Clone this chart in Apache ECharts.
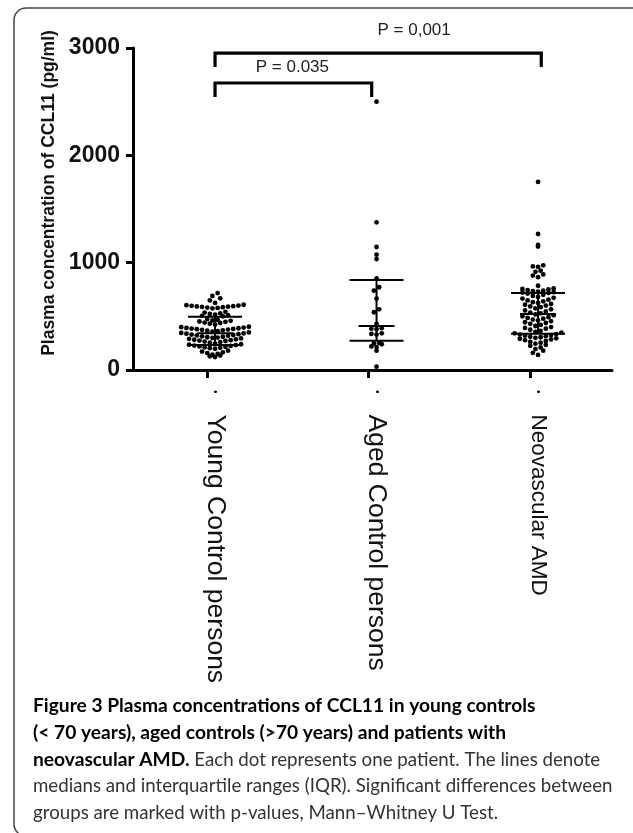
<!DOCTYPE html>
<html><head><meta charset="utf-8">
<script src="https://cdn.jsdelivr.net/npm/echarts@6/dist/echarts.min.js"></script>
<style>html,body{margin:0;padding:0;background:#fff}#c{width:633px;height:833px}</style>
</head><body><div id="c"></div>
<script>
// ---------- data ----------
const categories = ['Young Control persons', 'Aged Control persons', 'Neovascular AMD'];
const youngValues = [717, 690, 668, 648, 625,
  575, 578, 582, 585, 588, 590, 592, 595, 598, 600, 604, 608,
  500, 505, 510, 515, 522, 528, 535, 542,
  425, 432, 438, 442, 448, 452, 458, 462, 468, 475,
  358, 362, 366, 370, 374, 377, 380, 383, 386, 389, 392, 395, 399, 403,
  305, 310, 314, 318, 322, 326, 330, 334, 338, 341, 345, 350,
  255, 260, 265, 270, 274, 278, 282, 286, 290, 294, 298, 302,
  198, 203, 208, 212, 216, 220, 224, 228, 232, 236, 240, 245,
  120, 128, 135, 142, 150, 158, 165, 172, 180];
const agedValues = [31, 180, 214, 220, 240, 248, 252, 330, 336, 342, 380, 385, 390, 429,
  538, 565, 665, 739, 771, 854, 1034, 1075, 1146, 1376, 2500];
const amdValues = [1752, 1267, 1165, 1150, 975, 965, 960, 925, 915, 890, 880, 865, 785,
  760, 755, 750, 745, 740, 735, 730, 725, 722, 718, 712,
  700, 690, 680, 672, 665, 655, 648, 640, 632, 625, 615, 608, 600, 592, 585, 575, 565, 555, 545, 535, 528,
  518, 510, 500, 492, 485, 478, 470, 462, 455, 445, 438, 430, 420, 410, 400, 392, 385, 375, 365, 355, 348, 342,
  335, 330, 325, 320, 315, 310, 305, 300, 295, 290, 285, 278, 270, 262, 255, 245, 235, 225, 210, 195, 180, 160, 140];
const medians = [342, 410, 522];
const lowerQuartiles = [233, 273, 338];
const upperQuartiles = [497, 839, 717];
const yTicks = [0, 1000, 2000, 3000];
const comparisonFrom = [0, 0];
const comparisonTo = [1, 2];
const comparisonLevels = [2674, 2953];
const pValues = ['P = 0.035', 'P = 0,001'];
const captionBold = ['Figure 3 Plasma concentrations of CCL11 in young controls',
  '(< 70 years), aged controls (>70 years) and patients with',
  'neovascular AMD.'];
const captionRegular = [' Each dot represents one patient. The lines denote',
  'medians and interquartile ranges (IQR). Significant differences between',
  'groups are marked with p-values, Mann\u2013Whitney U Test.'];

// ---------- layout ----------
const GRID = {left: 133, right: 21, top: 48, bottom: 463};
const X_MIN = 0.492, X_MAX = 3.458;
const W = 633, H = 833;
const xPx = (W - GRID.left - GRID.right) / (X_MAX - X_MIN);
const yPx = (H - GRID.top - GRID.bottom) / (yTicks[yTicks.length - 1] - yTicks[0]);

function swarm(values, center) {
  const binH = 5.8, spacing = 5.2;
  const bins = {};
  values.forEach(v => { const b = Math.round(v * yPx / binH); (bins[b] = bins[b] || []).push(v); });
  const pts = [];
  Object.keys(bins).forEach(key => {
    const arr = bins[key].slice().sort((a, b) => a - b);
    const k = arr.length;
    const slots = [];
    for (let i = 0; i < k; i++) slots.push(i - (k - 1) / 2);
    slots.sort((a, b) => Math.abs(a) - Math.abs(b) || a - b);
    arr.forEach((v, i) => pts.push([center + slots[i] * spacing / xPx, v]));
  });
  return pts;
}

const groups = [youngValues, agedValues, amdValues];
let dots = [];
groups.forEach((vals, gi) => { dots = dots.concat(swarm(vals, gi + 1)); });

const statData = categories.map((c, i) => [i + 1, lowerQuartiles[i], medians[i], upperQuartiles[i]]);
const bracketData = comparisonFrom.map((a, i) => [a + 1, comparisonTo[i] + 1, comparisonLevels[i], i]);

const FONT = '"Liberation Sans", Arial, sans-serif';
const chart = echarts.init(document.getElementById('c'), null, {renderer: 'canvas'});

const captionText = [
  '{b|' + captionBold[0] + '}',
  '{b|' + captionBold[1] + '}',
  '{b|' + captionBold[2] + '}{r|' + captionRegular[0] + '}',
  '{r|' + captionRegular[1] + '}',
  '{r|' + captionRegular[2] + '}'
].join('\n');

chart.setOption({
  animation: false,
  backgroundColor: '#fff',
  title: {
    left: 28, top: 688,
    text: captionText,
    textStyle: {
      rich: {
        b: {fontFamily: 'Lato', fontWeight: 'bold', fontSize: 19.2, color: '#000', lineHeight: 26.6},
        r: {fontFamily: 'Lato', fontWeight: 'normal', fontSize: 18.7, color: '#333', lineHeight: 26.6}
      }
    }
  },
  graphic: [{
    type: 'rect',
    shape: {x: 14, y: 8, width: 660, height: 828, r: 12},
    style: {fill: 'none', stroke: '#444', lineWidth: 1.5},
    silent: true
  }],
  grid: {left: GRID.left, right: GRID.right, top: GRID.top, bottom: GRID.bottom},
  xAxis: {
    type: 'value', min: X_MIN, max: X_MAX,
    splitLine: {show: false},
    axisLine: {show: true, onZero: false, lineStyle: {color: '#000', width: 3}},
    axisTick: {show: true, customValues: [0.95, 1.95, 2.95], length: 8, lineStyle: {color: '#000', width: 3}},
    axisLabel: {
      show: true, customValues: [1, 2, 3], rotate: -90, margin: 20,
      formatter: v => {
        const i = Math.round(v) - 1;
        return '{d|\u2022}{s| }{t' + i + '|' + categories[i] + '}';
      },
      rich: {
        d: {fontSize: 10, fontFamily: FONT, color: '#000'},
        s: {fontSize: 10, width: 21},
        t0: {fontSize: 26.5, fontFamily: FONT, color: '#111'},
        t1: {fontSize: 26.5, fontFamily: FONT, color: '#111'},
        t2: {fontSize: 22.5, fontFamily: FONT, color: '#111'}
      }
    }
  },
  yAxis: {
    type: 'value', min: 0, max: 3000, interval: 1000,
    name: 'Plasma concentration of CCL11 (pg/ml)',
    nameLocation: 'middle', nameGap: 71,
    nameTextStyle: {fontFamily: FONT, fontWeight: 'bold', fontSize: 17.5, color: '#111', padding: [0, 0, 0, 32]},
    splitLine: {show: false},
    axisLine: {show: true, lineStyle: {color: '#000', width: 3}},
    axisTick: {show: true, length: 7, lineStyle: {color: '#000', width: 3}},
    axisLabel: {margin: 13, fontFamily: FONT, fontWeight: 'bold', fontSize: 23, color: '#111',
      formatter: v => String(v)}
  },
  series: [
    {
      type: 'scatter', data: dots, symbol: 'circle', symbolSize: 4.8,
      itemStyle: {color: '#000', opacity: 1}, clip: false, z: 3
    },
    {
      type: 'custom', data: statData, z: 4,
      renderItem: (params, api) => {
        const x = api.value(0);
        const lo = api.coord([x, api.value(1)]);
        const md = api.coord([x, api.value(2)]);
        const hi = api.coord([x, api.value(3)]);
        const qW = 27, mW = 18;
        const st = {stroke: '#000', lineWidth: 2};
        return {type: 'group', children: [
          {type: 'line', shape: {x1: hi[0] - qW, y1: hi[1], x2: hi[0] + qW, y2: hi[1]}, style: st},
          {type: 'line', shape: {x1: lo[0] - qW, y1: lo[1], x2: lo[0] + qW, y2: lo[1]}, style: st},
          {type: 'line', shape: {x1: md[0] - mW, y1: md[1], x2: md[0] + mW, y2: md[1]}, style: st},
          {type: 'line', shape: {x1: hi[0], y1: hi[1], x2: lo[0], y2: lo[1]}, style: st}
        ]};
      }
    },
    {
      type: 'custom', data: bracketData, z: 4,
      renderItem: (params, api) => {
        const a = api.coord([api.value(0), api.value(2)]);
        const b = api.coord([api.value(1) + 0.02 * api.value(3) - 0.03 * (1 - api.value(3)), api.value(2)]);
        const leg = 14;
        const idx = api.value(3);
        const st = {stroke: '#000', lineWidth: 3.2, lineJoin: 'miter', fill: 'none'};
        const midX = (a[0] + b[0]) / 2 + (idx === 1 ? 36 : -1);
        const ty = a[1] - (idx === 1 ? 23 : 16);
        return {type: 'group', children: [
          {type: 'polyline', shape: {points: [[a[0], a[1] + leg], [a[0], a[1]], [b[0], b[1]], [b[0], b[1] + leg]]}, style: st},
          {type: 'text', x: midX, y: ty, style: {text: pValues[idx], fill: '#222', font: '17px ' + FONT, align: 'center', verticalAlign: 'middle'}}
        ]};
      }
    }
  ]
});
</script></body></html>
